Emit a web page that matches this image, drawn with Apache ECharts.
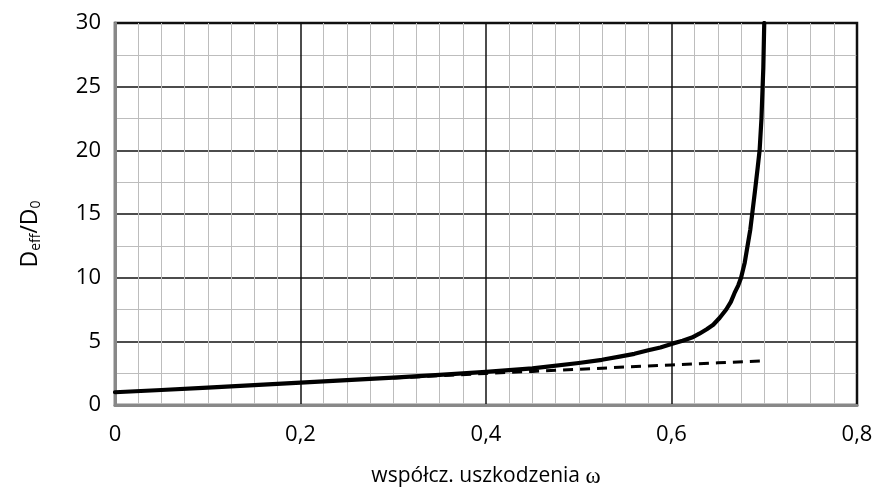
<!DOCTYPE html>
<html>
<head>
<meta charset="utf-8">
<script src="https://cdn.jsdelivr.net/npm/echarts@6/dist/echarts.min.js"></script>
<style>
  html, body { margin: 0; padding: 0; background: #fff; }
  #chart { width: 878px; height: 496px; }
</style>
</head>
<body>
<div id="chart"></div>
<script>
  // krzywa pełna: Deff/D0 w funkcji omega
  var omegaSolid = [0, 0.05, 0.1, 0.15, 0.2, 0.25, 0.3, 0.35, 0.4, 0.45, 0.5, 0.525, 0.544, 0.56, 0.575, 0.588, 0.6, 0.612, 0.622, 0.63, 0.638, 0.645, 0.652, 0.659, 0.664, 0.668, 0.672, 0.675, 0.679, 0.682, 0.685, 0.687, 0.69, 0.693, 0.695, 0.697, 0.699, 0.7];
  var deffSolid  = [1, 1.18, 1.37, 1.56, 1.75, 1.95, 2.15, 2.36, 2.6, 2.88, 3.3, 3.55, 3.8, 4.02, 4.3, 4.52, 4.8, 5.05, 5.3, 5.6, 5.95, 6.3, 6.85, 7.5, 8.1, 8.8, 9.4, 10, 11.2, 12.5, 13.8, 15, 16.8, 18.7, 20, 22.5, 26.5, 30];
  // krzywa przerywana
  var omegaDash = [0.3, 0.35, 0.4, 0.45, 0.5, 0.55, 0.6, 0.65, 0.7];
  var deffDash  = [2.12, 2.3, 2.48, 2.64, 2.8, 2.98, 3.15, 3.31, 3.47];

  var xTicks = { min: 0, max: 0.8, step: 0.2 };
  var yTicks = { min: 0, max: 30, step: 5 };

  function pairs(xs, ys) {
    return xs.map(function (x, i) { return [x, ys[i]]; });
  }

  var font = '"Open Sans", Lato, sans-serif';

  echarts.init(document.getElementById('chart')).setOption({
    animation: false,
    grid: {
      left: 115, right: 21, top: 23, bottom: 91,
      show: true,
      borderColor: '#111',
      borderWidth: 2.5
    },
    xAxis: {
      type: 'value',
      min: xTicks.min, max: xTicks.max, interval: xTicks.step,
      name: '{t|współcz. uszkodzenia }{w|ω}',
      nameLocation: 'middle',
      nameGap: 60,
      nameTextStyle: {
        rich: {
          t: { fontFamily: font, fontSize: 21, color: '#000' },
          w: { fontFamily: '"Liberation Serif", serif', fontSize: 23, color: '#000' }
        }
      },
      axisLine: { show: true, lineStyle: { color: '#888', width: 3 } },
      axisTick: { show: false },
      axisLabel: {
        margin: 19,
        fontFamily: font, fontSize: 22, color: '#000',
        formatter: function (v) { return String(+v.toFixed(1)).replace('.', ','); }
      },
      splitLine: { show: true, lineStyle: { color: '#111', width: 1.5 } },
      minorTick: { show: false, splitNumber: 8 },
      minorSplitLine: { show: true, lineStyle: { color: '#bdbdbd', width: 1 } }
    },
    yAxis: {
      type: 'value',
      min: yTicks.min, max: yTicks.max, interval: yTicks.step,
      name: '{n|D}{s|eff}{n|/D}{s|0}',
      nameLocation: 'middle',
      nameGap: 72,
      nameRotate: 90,
      nameTextStyle: {
        padding: [0, 40, 0, 0],
        rich: {
          n: { fontFamily: font, fontSize: 23, color: '#000' },
          s: { fontFamily: font, fontSize: 14, color: '#000', verticalAlign: 'bottom', padding: [12, 0, 0, 0] }
        }
      },
      axisLine: { show: true, lineStyle: { color: '#888', width: 3 } },
      axisTick: { show: false },
      axisLabel: { margin: 14, fontFamily: font, fontSize: 22, color: '#000' },
      splitLine: { show: true, lineStyle: { color: '#111', width: 1.5 } },
      minorTick: { show: false, splitNumber: 2 },
      minorSplitLine: { show: true, lineStyle: { color: '#bdbdbd', width: 1 } }
    },
    series: [
      {
        name: 'dash',
        type: 'line',
        data: pairs(omegaDash, deffDash),
        symbol: 'none',
        lineStyle: { color: '#000', width: 3, type: [10, 7] },
        z: 3
      },
      {
        name: 'solid',
        type: 'line',
        data: pairs(omegaSolid, deffSolid),
        symbol: 'none',
        smooth: false,
        lineStyle: { color: '#000', width: 4.2, join: 'round', cap: 'round' },
        z: 4
      }
    ]
  });
</script>
</body>
</html>
